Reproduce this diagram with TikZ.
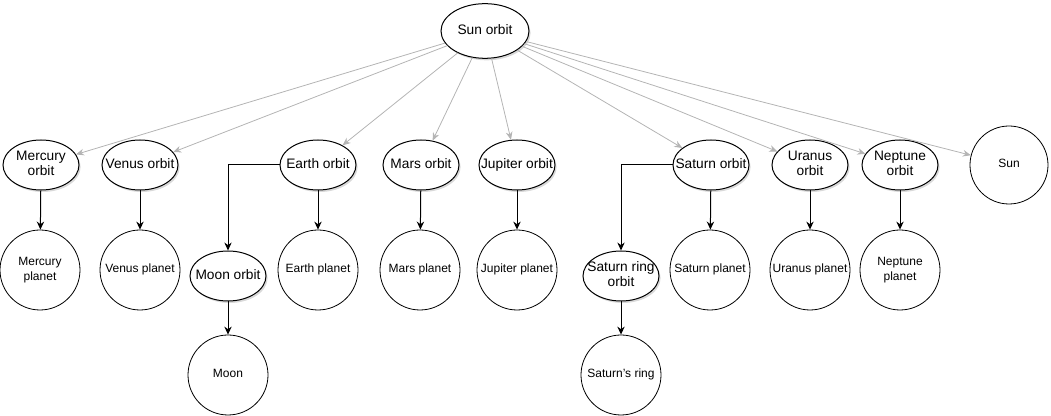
\documentclass[tikz,border=0pt]{standalone}
\usepackage{fontspec}
\setmainfont{Liberation Sans}
\usetikzlibrary{shapes.geometric,arrows.meta,shadows}
\definecolor{edgegray}{RGB}{180,180,180}
\newcommand\lbl[1]{\makebox[0pt]{\begin{tabular}{@{}c@{}}#1\end{tabular}}}
\tikzset{
  orb/.style={ellipse, draw=black, fill=white, line width=0.75pt, inner sep=0pt,
    minimum width=57pt, minimum height=37.5pt, font=\fontsize{10.3}{11.6}\selectfont,
    drop shadow={opacity=0.3, shadow xshift=1.2pt, shadow yshift=-1.5pt}},
  body/.style={circle, draw=black, fill=white, line width=0.6pt, inner sep=0pt, minimum size=60pt,
    font=\fontsize{9}{10.8}\selectfont},
  sunlink/.style={draw=edgegray, line width=0.6pt, -{Stealth[length=6pt,width=5pt]}},
  link/.style={draw=black, line width=0.75pt, -{Stealth[length=6pt,width=5.5pt]}}
}
\begin{document}
\begin{tikzpicture}[x=0.75pt,y=-0.75pt]
\useasboundingbox (0,0) rectangle (1051,416);
% top
\node[orb, minimum width=66pt, minimum height=41pt] (sunorbit) at (485,31) {\lbl{Sun orbit}};
% orbit row
\node[orb] (mercuryorbit) at (41,165) {\lbl{Mercury\\orbit}};
\node[orb] (venusorbit) at (140,165) {\lbl{Venus orbit}};
\node[orb] (earthorbit) at (318,165) {\lbl{Earth orbit}};
\node[orb] (marsorbit) at (421,165) {\lbl{Mars orbit}};
\node[orb] (jupiterorbit) at (517,165) {\lbl{Jupiter orbit}};
\node[orb] (saturnorbit) at (711,165) {\lbl{Saturn orbit}};
\node[orb] (uranusorbit) at (810,165) {\lbl{Uranus\\orbit}};
\node[orb] (neptuneorbit) at (900,165) {\lbl{Neptune\\orbit}};
\node[body, minimum size=58.5pt] (sun) at (1009,165) {\lbl{Sun}};
% planet row
\node[body] (mercury) at (40,270) {\lbl{Mercury\\planet}};
\node[body] (venus) at (140,270) {\lbl{Venus planet}};
\node[orb] (moonorbit) at (228,276) {\lbl{Moon orbit}};
\node[body] (earth) at (318,270) {\lbl{Earth planet}};
\node[body] (mars) at (420,270) {\lbl{Mars planet}};
\node[body] (jupiter) at (517,270) {\lbl{Jupiter planet}};
\node[orb] (ringorbit) at (621,276) {\lbl{Saturn ring\\orbit}};
\node[body] (saturn) at (710,270) {\lbl{Saturn planet}};
\node[body] (uranus) at (810,270) {\lbl{Uranus planet}};
\node[body] (neptune) at (900,270) {\lbl{Neptune\\planet}};
% bottom row
\node[body] (moon) at (228,375) {\lbl{Moon}};
\node[body] (ring) at (621,375) {\lbl{Saturn's ring}};
% gray links from sun orbit
\foreach \t in {mercuryorbit,venusorbit,earthorbit,marsorbit,jupiterorbit,saturnorbit,uranusorbit,neptuneorbit,sun}
  \draw[sunlink] (sunorbit) -- (\t);
% black links
\draw[link] (mercuryorbit) -- (mercury);
\draw[link] (venusorbit) -- (venus);
\draw[link] (earthorbit) -- (earth);
\draw[link] (marsorbit) -- (mars);
\draw[link] (jupiterorbit) -- (jupiter);
\draw[link] (saturnorbit) -- (saturn);
\draw[link] (uranusorbit) -- (uranus);
\draw[link] (neptuneorbit) -- (neptune);
\draw[link] (earthorbit.west) -| (moonorbit.north);
\draw[link] (saturnorbit.west) -| (ringorbit.north);
\draw[link] (moonorbit) -- (moon);
\draw[link] (ringorbit) -- (ring);
\end{tikzpicture}
\end{document}
